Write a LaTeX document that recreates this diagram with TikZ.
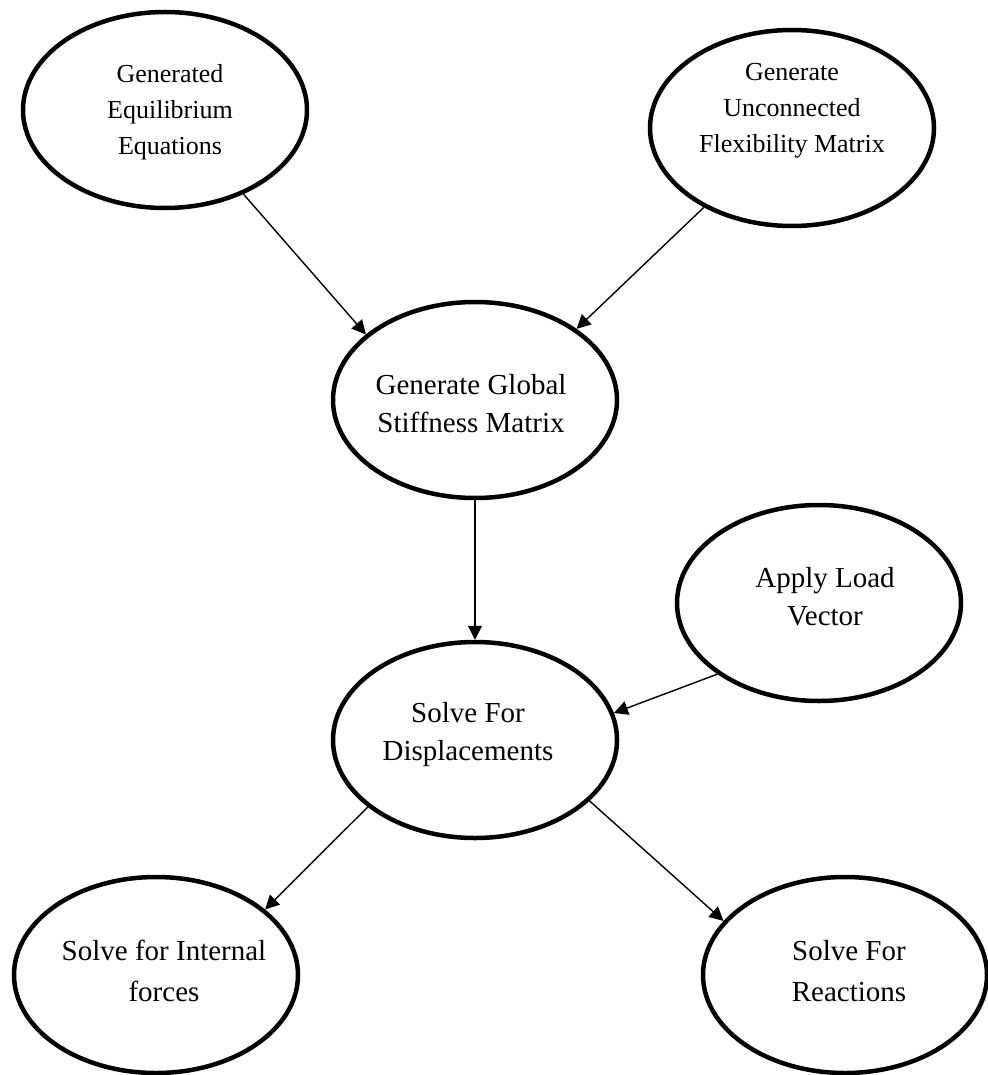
\documentclass[tikz,border=0pt]{standalone}
\usepackage{fontspec}
\setmainfont{Liberation Serif}
\usetikzlibrary{shapes.geometric,arrows.meta}

\tikzset{
  oval/.style={ellipse, draw=black, line width=4.5pt, fill=white,
    minimum width=284pt, minimum height=196pt, inner sep=0pt},
  lbl/.style={align=center, inner sep=0pt, text=black},
  small/.style={lbl, font=\fontsize{26}{36}\selectfont},
  big/.style={lbl, font=\fontsize{29}{38}\selectfont},
  bigger/.style={lbl, font=\fontsize{29}{41}\selectfont},
  flow/.style={draw=black, line width=1.4pt,
    -{Triangle[length=14pt,width=14pt]}}
}

\begin{document}
\begin{tikzpicture}[x=1pt,y=-1pt]
\useasboundingbox (0,0) rectangle (987,1075);

% ellipses
\node[oval] (e1) at (165,110) {};
\node[oval] (e2) at (792,128) {};
\node[oval] (e3) at (475,400) {};
\node[oval] (e4) at (819,603) {};
\node[oval] (e5) at (475,740) {};
\node[oval] (e6) at (156,975) {};
\node[oval] (e7) at (845,975) {};

% labels
\node[small]  (t1) at (170,112) {Generated\\Equilibrium\\Equations};
\node[small]  (t2) at (792,111) {Generate\\Unconnected\\Flexibility Matrix};
\node[big]    (t3) at (471,404) {Generate Global\\Stiffness Matrix};
\node[big]    (t4) at (825,597) {Apply Load\\Vector};
\node[big]    (t5) at (468,735) {Solve For\\Displacements};
\node[bigger] (t6) at (164,971) {Solve for Internal\\forces};
\node[bigger] (t7) at (849,971) {Solve For\\Reactions};

% connectors
\draw[flow] (e1.-47.5) -- (e3.149);
\draw[flow] (e2.222.6) -- (e3.35);
\draw[flow] (e3.south) -- (e5.north);
\draw[flow] (e4.215) -- (e5.11);
\draw[flow] (e5.212) -- (e6.31);
\draw[flow] (e5.-28.5) -- (e7.156.7);
\end{tikzpicture}
\end{document}
